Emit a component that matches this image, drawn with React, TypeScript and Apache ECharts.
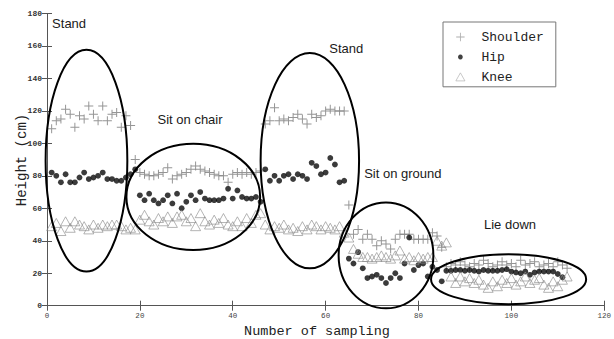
import React, { useEffect, useRef } from "react";
import * as echarts from "echarts";

// Sample values (x = sample index starting at 1)
const shoulder = [
  109, 114, 115, 121, 118, 110, 117, 115, 123, 118, 114, 123, 114, 118, 119, 110, 117, 111,
  90,
  82, 81, 80, 80, 81, 82, 85, 78, 80, 81, 82, 84, 86, 84, 83, 82, 81, 80, 80, 76, 81, 82, 81, 82, 81, 82, 83,
  112, 114, 122, 114, 115, 114, 116, 118, 115, 112, 118, 116, 117, 120, 121, 120, 120, 120,
  62, 44, 47, 41, 44, 41, 37, 40, 38, 35, 41, 44, 44, 44, 41, 41, 41, 41, 45, 43, 36,
  24, 26, 25, 27, 25, 24, 26, 25, 28, 26, 24, 25, 27, 25, 26, 24, 28, 25, 26, 27, 24, 25, 26, 24, 27, 25, 23,
];
const hip = [
  82, 80, 76, 81, 76, 76, 79, 82, 78, 79, 80, 82, 78, 78, 77, 77, 79, 81, 84,
  68, 65, 69, 65, 63, 65, 68, 63, 69, 60, 64, 68, 65, 70, 66, 65, 65, 65, 66, 72, 66, 71, 67, 66, 66, 67, 64,
  84, 77, 80, 77, 80, 81, 78, 81, 80, 78, 88, 86, 81, 82, 91, 87, 76, 77,
  29, 26, 33, 23, 17, 18, 19, 17, 14, 17, 20, 17, 26, 42, 22, 25, 26, 18, 24, 22, 15,
  21.5, 21.5, 22, 22, 21.5, 22, 21.5, 21, 22, 21.5, 21.5, 21.5, 22, 22.5, 21, 20.5, 20, 21, 19, 20.5, 21, 21, 21, 21, 19.5, 17.5,
];
const knee = [
  49, 51, 46, 52, 48, 52, 50, 49, 47, 50, 48, 50, 49, 50, 50, 49, 47, 48, 47,
  53, 56, 52, 50, 54, 52, 55, 51, 55, 56, 52, 54, 49, 57, 52, 50, 53, 51, 54, 50, 49, 52, 49, 54, 51, 56, 57,
  50, 47, 49, 48, 50, 47, 48, 46, 49, 47, 50, 49, 47, 49, 48, 47, 49, 45,
  42, 35, 32, 30, 30, 29, 30, 31, 30, 29, 31, 34, 29, 30, 28, 30, 29, 30, 30, 40, 37, 39,
  18, 14, 18, 15, 17, 14, 16, 13, 11, 15, 12, 16, 14, 17, 13, 15, 18, 14, 16, 17, 13, 11, 15, 12, 16, 18,
];

const seriesNames = ["Shoulder", "Hip", "Knee"];

// Annotations in data coordinates
const annotationLabels = ["Stand", "Sit on chair", "Stand", "Sit on ground", "Lie down"];
const labelX = [1.1, 23.8, 60.8, 68.3, 94.1];
const labelY = [173.7, 114.5, 158.7, 81.6, 49.8];
const ellipseCx = [8.5, 31.5, 56.6, 73.0, 99.4];
const ellipseCy = [89.3, 67.0, 89.3, 31.0, 16.3];
const ellipseRx = [8.8, 14.4, 10.6, 10.2, 16.7];
const ellipseRy = [68.3, 32.7, 66.3, 32.6, 15.4];

const xAxisTitle = "Number of sampling";
const yAxisTitle = "Height (cm)";

const PLUS = "path://M4.45,0h1.1v10h-1.1zM0,4.45h10v1.1h-10z";
const PLUS_ICON = "path://M0,0M20,20M9.4,4h1.2v12h-1.2zM4,9.4h12v1.2h-12z";
const DOT_ICON = "path://M0,0M20,20M10,6.6A3.4,3.4,0,1,1,9.99,6.6z";
const TRI_ICON = "path://M0,0M20,20M10,3.5L16.5,15H3.5Z";

const toPoints = (arr: number[]) => arr.map((v, i) => [i + 1, v]);

export default function App() {
  const ref = useRef<HTMLDivElement>(null);
  useEffect(() => {
    if (!ref.current) return;
    const chart = echarts.init(ref.current, null, { renderer: "svg" });
    const mono = "'Liberation Mono', 'DejaVu Sans Mono', monospace";
    const axisLine = { show: true, lineStyle: { color: "#555", width: 1 } };
    const ticks = { show: true, inside: true, length: 5, lineStyle: { color: "#555" } };
    chart.setOption({
      animation: false,
      backgroundColor: "#fff",
      grid: { left: 47, right: 3, top: 13.5, bottom: 33.3, containLabel: false },
      xAxis: [
        {
          type: "value", min: 0, max: 120, interval: 20, position: "bottom",
          axisLine, axisTick: ticks, splitLine: { show: false },
          axisLabel: { fontFamily: mono, fontSize: 7.5, color: "#444", margin: 6 },
        },
        {
          type: "value", min: 0, max: 120, interval: 20, position: "top",
          axisLine, axisTick: ticks, splitLine: { show: false }, axisLabel: { show: false },
        },
      ],
      yAxis: [
        {
          type: "value", min: 0, max: 180, interval: 20, position: "left",
          axisLine, axisTick: ticks, splitLine: { show: false },
          axisLabel: { fontFamily: mono, fontSize: 8, fontWeight: "bold", color: "#333", margin: 5 },
        },
        {
          type: "value", min: 0, max: 180, interval: 20, position: "right",
          axisLine, axisTick: ticks, splitLine: { show: false }, axisLabel: { show: false },
        },
      ],
      legend: {
        orient: "vertical",
        left: 443,
        top: 22,
        padding: [8, 12, 2, 10],
        itemWidth: 28,
        itemHeight: 14,
        itemGap: 6,
        borderColor: "#777",
        borderWidth: 1,
        backgroundColor: "#fff",
        textStyle: { fontFamily: mono, fontSize: 13, color: "#222", padding: [0, 0, 0, 2] },
        data: [
          { name: seriesNames[0], icon: PLUS_ICON, itemStyle: { color: "#999" } },
          { name: seriesNames[1], icon: DOT_ICON, itemStyle: { color: "#111" } },
          { name: seriesNames[2], icon: TRI_ICON, itemStyle: { color: "rgba(255,255,255,0)", borderColor: "#aaa", borderWidth: 0.8 } },
        ],
      },
      series: [
        {
          name: seriesNames[0], type: "scatter", data: toPoints(shoulder),
          symbol: PLUS, symbolSize: 9, itemStyle: { color: "#7a7a7a" },
        },
        {
          name: seriesNames[1], type: "scatter", data: toPoints(hip),
          symbol: "circle", symbolSize: 5.8, itemStyle: { color: "#0a0a0a" },
        },
        {
          name: seriesNames[2], type: "scatter", data: toPoints(knee),
          symbol: "triangle", symbolSize: [10, 9],
          itemStyle: { color: "rgba(255,255,255,0)", borderColor: "#8a8a8a", borderWidth: 0.8 },
        },
      ],
    });

    const px = (x: number, y: number) => chart.convertToPixel({ gridIndex: 0 }, [x, y]) as number[];
    const graphics: any[] = [];
    for (let i = 0; i < ellipseCx.length; i++) {
      const c = px(ellipseCx[i], ellipseCy[i]);
      const ex = px(ellipseCx[i] + ellipseRx[i], ellipseCy[i]);
      const ey = px(ellipseCx[i], ellipseCy[i] + ellipseRy[i]);
      graphics.push({
        type: "ellipse", z: 100,
        shape: { cx: c[0], cy: c[1], rx: ex[0] - c[0], ry: c[1] - ey[1] },
        style: { fill: "none", stroke: "#000", lineWidth: 2 },
      });
    }
    for (let i = 0; i < annotationLabels.length; i++) {
      const p = px(labelX[i], labelY[i]);
      graphics.push({
        type: "text", z: 101, x: p[0], y: p[1],
        style: {
          text: annotationLabels[i], fill: "#1a1a1a", fontSize: 13,
          fontFamily: "'Liberation Sans', Arial, sans-serif", align: "left", verticalAlign: "middle",
        },
      });
    }
    graphics.push({
      type: "text", z: 101, x: 317, y: 331,
      style: { text: xAxisTitle, fill: "#222", fontSize: 13.5, fontFamily: mono, align: "center", verticalAlign: "middle" },
    });
    graphics.push({
      type: "text", z: 101, x: 22, y: 160, rotation: Math.PI / 2,
      style: { text: yAxisTitle, fill: "#222", fontSize: 14, fontFamily: mono, align: "center", verticalAlign: "middle" },
    });
    chart.setOption({ graphic: graphics });

    return () => chart.dispose();
  }, []);
  return (
    <div
      ref={ref}
      style={{ position: "fixed", left: 0, top: 0, width: 614, height: 339, background: "#fff" }}
    />
  );
}
